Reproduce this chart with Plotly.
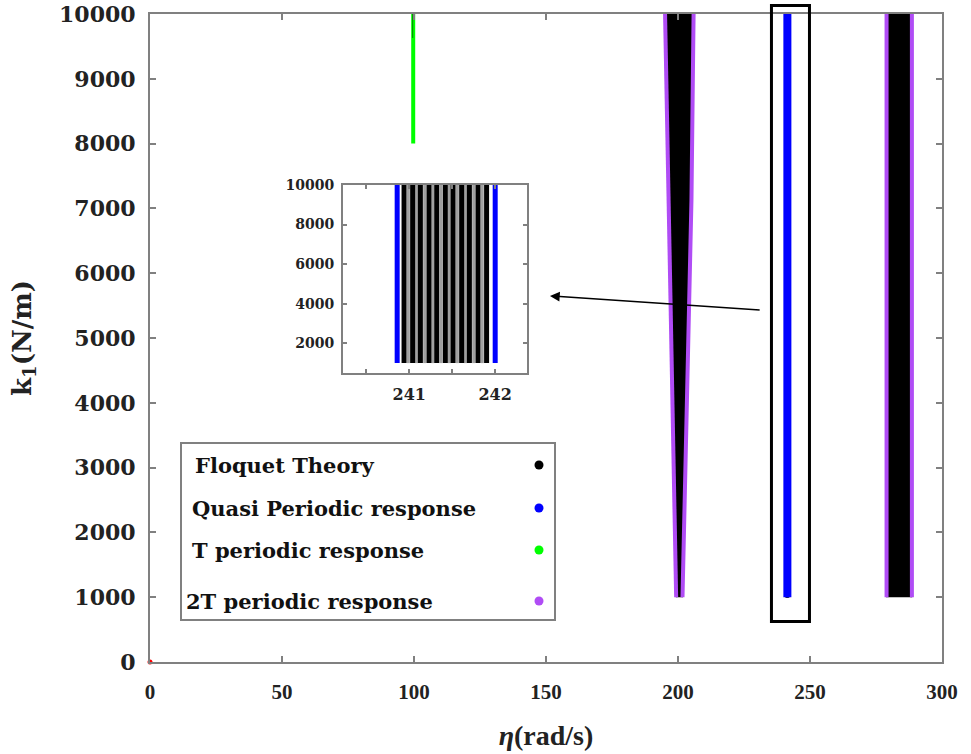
import plotly.graph_objects as go

# ---------------- data ----------------
# T periodic response (green) near eta = 100
T_eta = [99.7, 99.7]
T_k = [8000, 10000]

# Floquet tongue around eta = 200 (edges at given k levels)
wedge_k = [1000, 4040, 7130, 10000]
wedge_left = [199.3, 197.9, 196.2, 195.1]
wedge_right = [201.7, 203.5, 205.1, 205.9]

# Floquet band around eta = 280-289
band_k = [1000, 10000]
band_left = [279.0, 279.0]
band_right = [288.6, 288.6]

# Quasi periodic response (blue) lines near eta = 241-242
quasi_eta = [240.86, 242.0]
quasi_k = [1000, 10000]

# Floquet stripes between the quasi-periodic lines (inset)
floq_eta = [240.94, 241.04, 241.13, 241.23, 241.32, 241.42,
            241.51, 241.61, 241.70, 241.80, 241.90]
floq_gray_eta = [240.99, 241.085, 241.18, 241.275, 241.37, 241.465,
                 241.56, 241.655, 241.75, 241.85]
floq_k = [1000, 10000]

# small Floquet trace inside the green line
T_floq_eta = [99.5, 99.5]
T_floq_k = [9630, 10000]

# origin point
origin_eta = [0]
origin_k = [0]

# highlighted box and arrow (data coords)
box_eta = [235.4, 249.8]
box_k = [625, 10130]
arrow_tail = (231.5, 5430)
arrow_head = (151.5, 5650)

# axes
x_ticks = [0, 50, 100, 150, 200, 250, 300]
y_ticks = [0, 1000, 2000, 3000, 4000, 5000, 6000, 7000, 8000, 9000, 10000]
y_tick_text = [str(v) for v in y_ticks]
inset_x_ticks = [241, 242]
inset_x_text = ["241", "242"]
inset_y_ticks = [2000, 4000, 6000, 8000, 10000]
inset_y_text = [str(v) for v in inset_y_ticks]

legend_labels = ["Floquet Theory", "Quasi Periodic response",
                 "T periodic response", "2T periodic response"]
legend_colors = ["#000000", "#0000ff", "#00ff00", "#b04cf5"]

PURPLE = "#b04cf5"
BLUE = "#0000ff"
GREEN = "#00ff00"

# ---------------- layout geometry (window pixels) ----------------
FW, FH = 971, 754
L, R, T, B = 150, 942, 14, 662   # plot-area edges
W, H = R - L, B - T


def px_x(p):
    return (p - L) / W


def px_y(p):
    return (B - p) / H


def vlines(etas, ks):
    xs, ys = [], []
    for e in etas:
        xs += [e, e, None]
        ys += [ks[0], ks[-1], None]
    return xs, ys


fig = go.Figure()

# ---- main plot ----
fig.add_trace(go.Scatter(
    x=wedge_left + wedge_right[::-1], y=wedge_k + wedge_k[::-1],
    fill="toself", fillcolor="black", mode="lines",
    line=dict(color="black", width=1), showlegend=False, hoverinfo="skip"))
fig.add_trace(go.Scatter(
    x=band_left + band_right[::-1], y=band_k + band_k[::-1],
    fill="toself", fillcolor="black", mode="lines",
    line=dict(color="black", width=1), showlegend=False, hoverinfo="skip"))
xs, ys = vlines(floq_eta, floq_k)
fig.add_trace(go.Scatter(x=xs, y=ys, mode="lines",
                         line=dict(color="black", width=2),
                         showlegend=False, hoverinfo="skip"))
for ex in (wedge_left, wedge_right):
    fig.add_trace(go.Scatter(x=ex, y=wedge_k, mode="lines",
                             line=dict(color=PURPLE, width=4),
                             showlegend=False, hoverinfo="skip"))
for ex in (band_left, band_right):
    fig.add_trace(go.Scatter(x=ex, y=band_k, mode="lines",
                             line=dict(color=PURPLE, width=4),
                             showlegend=False, hoverinfo="skip"))
xs, ys = vlines(quasi_eta, quasi_k)
fig.add_trace(go.Scatter(x=xs, y=ys, mode="lines",
                         line=dict(color=BLUE, width=5),
                         showlegend=False, hoverinfo="skip"))
fig.add_trace(go.Scatter(x=T_eta, y=T_k, mode="lines",
                         line=dict(color=GREEN, width=4),
                         showlegend=False, hoverinfo="skip"))
fig.add_trace(go.Scatter(x=T_floq_eta, y=T_floq_k, mode="lines",
                         line=dict(color="rgba(0,80,0,0.7)", width=1),
                         showlegend=False, hoverinfo="skip"))
fig.add_trace(go.Scatter(x=origin_eta, y=origin_k, mode="markers",
                         marker=dict(color="red", size=5), cliponaxis=False,
                         showlegend=False, hoverinfo="skip"))

# ---- inset ----
xs, ys = vlines(floq_gray_eta, floq_k)
fig.add_trace(go.Scatter(x=xs, y=ys, mode="lines", xaxis="x2", yaxis="y2",
                         line=dict(color="#a0a0a0", width=3),
                         showlegend=False, hoverinfo="skip"))
xs, ys = vlines(floq_eta, floq_k)
fig.add_trace(go.Scatter(x=xs, y=ys, mode="lines", xaxis="x2", yaxis="y2",
                         line=dict(color="black", width=5),
                         showlegend=False, hoverinfo="skip"))
xs, ys = vlines(quasi_eta, quasi_k)
fig.add_trace(go.Scatter(x=xs, y=ys, mode="lines", xaxis="x2", yaxis="y2",
                         line=dict(color=BLUE, width=5),
                         showlegend=False, hoverinfo="skip"))

AX_COLOR = "#808080"
axis_common = dict(showgrid=False, zeroline=False, showline=True,
                   linecolor=AX_COLOR, linewidth=2, mirror="ticks",
                   ticks="inside", tickcolor=AX_COLOR, tickwidth=1.5,
                   automargin=False)

fig.update_layout(
    width=FW, height=FH,
    margin=dict(l=L, r=FW - R, t=T, b=FH - B),
    plot_bgcolor="white", paper_bgcolor="white",
    showlegend=False,
    xaxis=dict(range=[0, 300], tickvals=x_ticks, ticklen=6,
               tickfont=dict(family="Liberation Serif", size=21, color="#222",
                             weight="bold"),
               ticklabelstandoff=10,
               title=dict(text="<i>η</i>(rad/s)", standoff=22,
                          font=dict(family="Liberation Serif", size=28, color="#222",
                                    weight="bold")),
               **axis_common),
    yaxis=dict(range=[0, 10000], tickvals=y_ticks, ticktext=y_tick_text, ticklen=6,
               tickfont=dict(family="DejaVu Serif", size=22, color="#222", weight="bold"),
               ticklabelstandoff=8,
               title=dict(text="k<sub>1</sub>(N/m)", standoff=20,
                          font=dict(family="DejaVu Serif", size=26, color="#222",
                                    weight="bold")),
               **axis_common),
    xaxis2=dict(domain=[px_x(343), px_x(527)], anchor="y2",
                range=[240.23, 242.37], tickvals=inset_x_ticks, ticktext=inset_x_text,
                ticklen=4, ticklabelstandoff=6,
                minor=dict(dtick=0.5, tick0=240, ticks="inside", ticklen=4,
                           tickcolor=AX_COLOR),
                tickfont=dict(family="DejaVu Serif", size=16, color="#222",
                              weight="bold"),
                **axis_common),
    yaxis2=dict(domain=[px_y(373), px_y(185)], anchor="x2",
                range=[500, 10000], tickvals=inset_y_ticks, ticktext=inset_y_text,
                ticklen=4, ticklabelstandoff=4,
                tickfont=dict(family="DejaVu Serif", size=14, color="#222",
                              weight="bold"),
                **axis_common),
)

shapes = []
shapes.append(dict(type="rect", xref="paper", yref="paper",
                   x0=box_eta[0] / 300, x1=box_eta[1] / 300,
                   y0=box_k[0] / 10000, y1=box_k[1] / 10000,
                   line=dict(color="black", width=3)))
shapes.append(dict(type="rect", xref="paper", yref="paper",
                   x0=px_x(181), x1=px_x(555), y0=px_y(620), y1=px_y(443),
                   line=dict(color=AX_COLOR, width=2), fillcolor="white",
                   layer="below"))

annotations = []
leg_text_x = [193, 190, 190, 184]
leg_y = [465, 508, 550, 601]
dot_r = 4.5
for lab, col, tx, ty in zip(legend_labels, legend_colors, leg_text_x, leg_y):
    annotations.append(dict(xref="paper", yref="paper", x=px_x(tx), y=px_y(ty),
                            xanchor="left", yanchor="middle", showarrow=False,
                            text=lab,
                            font=dict(family="DejaVu Serif", size=21, color="#111",
                                      weight="bold")))
    shapes.append(dict(type="circle", xref="paper", yref="paper",
                       x0=px_x(539 - dot_r), x1=px_x(539 + dot_r),
                       y0=px_y(ty + dot_r), y1=px_y(ty - dot_r),
                       fillcolor=col, line=dict(color=col, width=0)))

annotations.append(dict(x=arrow_head[0], y=arrow_head[1], xref="x", yref="y",
                        ax=arrow_tail[0], ay=arrow_tail[1], axref="x", ayref="y",
                        text="", showarrow=True, arrowhead=2, arrowsize=1.3,
                        arrowwidth=1.5, arrowcolor="black"))

fig.update_layout(shapes=shapes, annotations=annotations)

fig.write_html(
    "out.html",
    config={"displayModeBar": False},
    post_script="document.body.style.margin='0';document.body.style.overflow='hidden';",
)
